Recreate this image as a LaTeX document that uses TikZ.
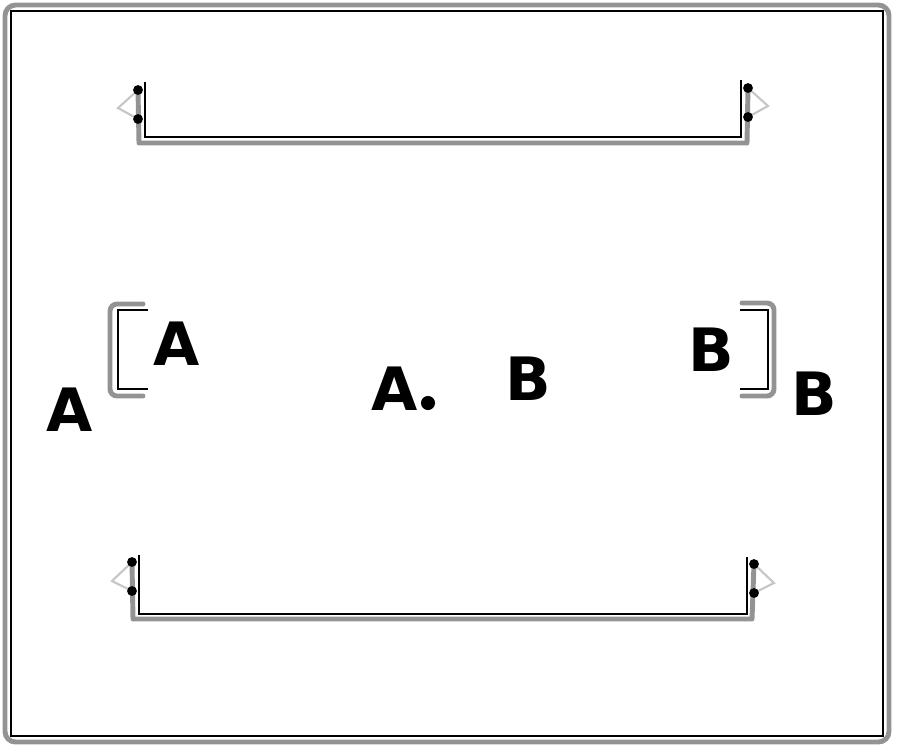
\documentclass[tikz,border=0pt]{standalone}
\usepackage{fontspec}
\setsansfont{DejaVu Sans}
\tikzset{
  rail/.style={gray!85, line width=1.4pt, line join=round, line cap=round},
  trace/.style={black, line width=0.4pt},
  flag/.style={gray!45, line width=0.6pt},
  pin/.style={circle, fill=black, inner sep=0pt, minimum size=2.8pt},
  lbl/.style={font=\sffamily\bfseries\fontsize{17}{20}\selectfont, inner sep=0pt}
}
\begin{document}
\begin{tikzpicture}[x=0.01cm, y=-0.01cm]
  \useasboundingbox (0,0) rectangle (900,750);
  % frame
  \draw[rail, rounded corners=3pt] (5,5) rectangle (889,742);
  \draw[trace] (11,11) rectangle (883,736);

  % upper rail
  \coordinate (t1) at (138,90);  \coordinate (t2) at (138,119);
  \coordinate (t3) at (748,88);  \coordinate (t4) at (748,117);
  \coordinate (tl) at (118,108); \coordinate (tr) at (768,106);
  \draw[rail] (t1) -- (139,143) -- (747,143) -- (t3);
  \draw[trace] (145,82) -- (145,137) -- (741,137) -- (741,80);
  \draw[flag] (t1) -- (tl) -- (t2);
  \draw[flag] (t3) -- (tr) -- (t4);
  \foreach \p in {t1,t2,t3,t4} \node[pin] at (\p) {};

  % lower rail
  \coordinate (b1) at (132,562); \coordinate (b2) at (132,591);
  \coordinate (b3) at (754,564); \coordinate (b4) at (754,593);
  \coordinate (bl) at (112,581); \coordinate (br) at (774,583);
  \draw[rail] (b1) -- (133,619) -- (752,619) -- (b3);
  \draw[trace] (139,555) -- (139,614) -- (747,614) -- (747,557);
  \draw[flag] (b1) -- (bl) -- (b2);
  \draw[flag] (b3) -- (br) -- (b4);
  \foreach \p in {b1,b2,b3,b4} \node[pin] at (\p) {};

  % brackets
  \draw[rail, rounded corners=2pt] (143,304) -- (110,304) -- (110,396) -- (143,396);
  \draw[trace] (148,310) -- (118,310) -- (118,389) -- (148,389);
  \draw[rail, rounded corners=2pt] (742,303) -- (774,303) -- (774,396) -- (742,396);
  \draw[trace] (740,310) -- (768,310) -- (768,389) -- (740,389);

  % labels
  \node[lbl] (a1) at (70,410) {A};
  \node[lbl] (a2) at (177,344) {A};
  \node[lbl] (a3) at (395,389) {A};
  \node[circle, fill=black, inner sep=0pt, minimum size=4pt] (dot) at (428,403) {};
  \node[lbl] (b1l) at (528,379) {B};
  \node[lbl] (b2l) at (711,350) {B};
  \node[lbl] (b3l) at (814,394) {B};
\end{tikzpicture}
\end{document}
